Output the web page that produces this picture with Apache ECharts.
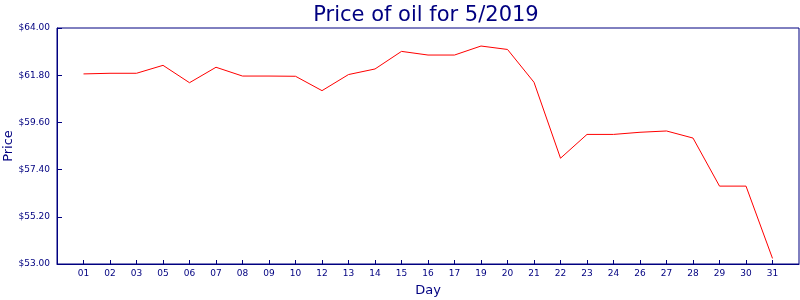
<!DOCTYPE html>
<html>
<head>
<meta charset="utf-8">
<script src="https://cdn.jsdelivr.net/npm/echarts@6/dist/echarts.min.js"></script>
<style>html,body{margin:0;padding:0;background:#fff}#c{width:800px;height:300px}</style>
</head>
<body>
<div id="c"></div>
<script>
var days = ['01','02','03','05','06','07','08','09','10','12','13','14','15','16','17','19','20','21','22','23','24','26','27','28','29','30','31'];
var prices = [61.86,61.89,61.89,62.26,61.45,62.17,61.76,61.76,61.75,61.08,61.83,62.09,62.91,62.74,62.74,63.16,63.00,61.47,57.93,59.04,59.04,59.14,59.20,58.87,56.63,56.63,53.26];
var yTicks = [53, 55.2, 57.4, 59.6, 61.8, 64];
var title = 'Price of oil for 5/2019';

var navy = '#000080';
var font = 'DejaVu Sans';
var idx = days.map(function(d,i){return i;});
var chart = echarts.init(document.getElementById('c'), null, {renderer:'canvas'});
chart.setOption({
  animation: false,
  backgroundColor: '#fff',
  title: {
    text: title, left: 421, top: 0, textAlign: 'center',
    textStyle: {color: navy, fontFamily: font, fontSize: 21, fontWeight: 'normal'}
  },
  grid: {left: 57, right: 1, top: 28, bottom: 36, show: true, borderColor: navy, borderWidth: 1,
    backgroundColor: 'transparent', containLabel: false, outerBoundsMode: 'none'},
  xAxis: {
    type: 'value', min: -1, max: days.length,
    name: 'Day', nameLocation: 'middle', nameGap: 20, nameMoveOverlap: false,
    nameTextStyle: {color: navy, fontFamily: font, fontSize: 13},
    axisLine: {show: true, onZero: false, lineStyle: {color: navy, width: 1}},
    axisTick: {show: true, inside: true, length: 4, lineStyle: {color: navy}, customValues: idx},
    axisLabel: {color: navy, fontFamily: font, fontSize: 9, margin: 5, customValues: idx,
      formatter: function(v){ return days[Math.round(v)] || ''; }},
    splitLine: {show: false}
  },
  yAxis: {
    type: 'value', min: yTicks[0], max: yTicks[yTicks.length-1],
    name: 'Price', nameLocation: 'middle', nameGap: 42, nameRotate: 90, nameMoveOverlap: false,
    nameTextStyle: {color: navy, fontFamily: font, fontSize: 13},
    axisLine: {show: true, onZero: false, lineStyle: {color: navy, width: 1}},
    axisTick: {show: true, inside: true, length: 5, lineStyle: {color: navy}, customValues: yTicks},
    axisLabel: {color: navy, fontFamily: font, fontSize: 9, margin: 7, customValues: yTicks,
      formatter: function(v){ return '$' + v.toFixed(2); }},
    splitLine: {show: false}
  },
  series: [{
    type: 'line', showSymbol: false, symbol: 'none',
    lineStyle: {color: '#ff0000', width: 1},
    data: prices.map(function(p,i){ return [i, p]; })
  }]
});
</script>
</body>
</html>
